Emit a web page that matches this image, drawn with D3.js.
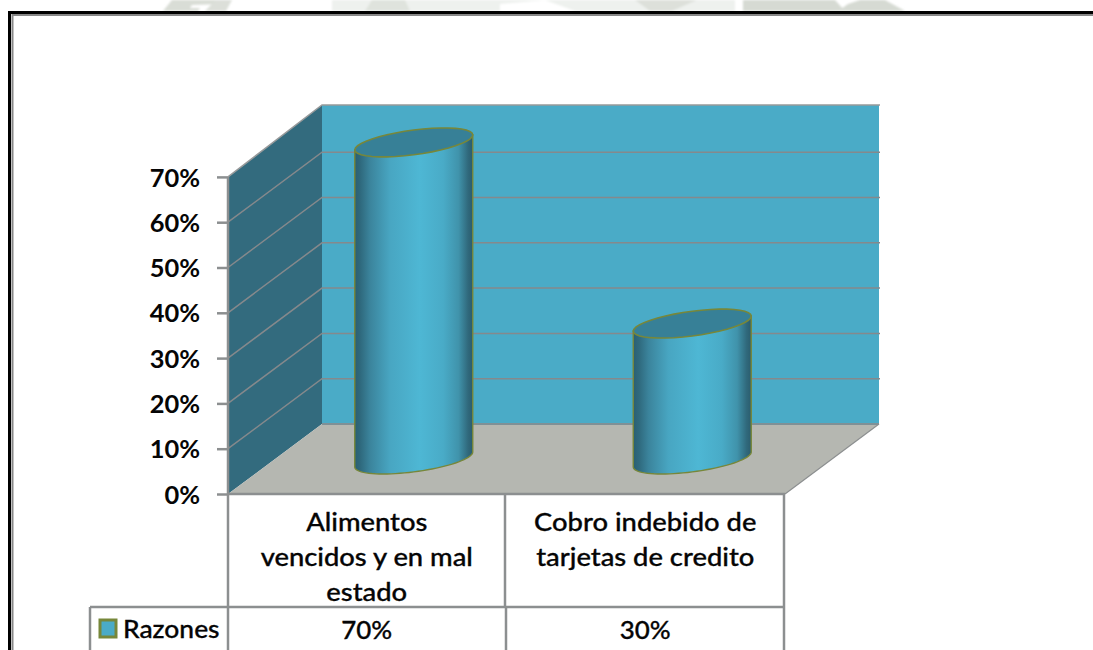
<!DOCTYPE html>
<html lang="es">
<head>
<meta charset="utf-8">
<script src="https://cdn.jsdelivr.net/npm/d3@7/dist/d3.min.js"></script>
<style>
  html, body { margin: 0; padding: 0; background: #fff; overflow: hidden; }
  svg { display: block; }
  text { font-family: Lato, "Open Sans", sans-serif; fill: #050505; }
</style>
</head>
<body>
<svg id="chart" width="1093" height="650"></svg>
<script>
// Chart content
const categories = [["Alimentos", "vencidos y en mal", "estado"], ["Cobro indebido de", "tarjetas de credito"]];
const values = [70, 30];
const seriesName = "Razones";
const yTicks = [0, 10, 20, 30, 40, 50, 60, 70];

// Faint letterhead print along the upper edge of the page
const letterhead = [
  { fill: "#eef1ee", pts: [[332,0],[735,0],[735,11],[332,11]] },
  { fill: "#d9ddd6", pts: [[163,11],[172,0],[232,0],[226,4],[192,5],[190,8],[200,8],[198,11]] },
  { fill: "#dcdfd9", pts: [[205,11],[216,0],[232,0],[226,11]] },
  { fill: "#dfe3dd", pts: [[365,11],[372,0],[405,0],[410,11]] },
  { fill: "#ffffff", pts: [[500,11],[500,4],[545,0],[575,11]] },
  { fill: "#dde0da", pts: [[635,0],[650,11],[672,11],[697,0]] },
  { fill: "#d6dad3", pts: [[743,0],[835,0],[845,11],[743,11]] },
  { fill: "#d6dad3", pts: [[838,11],[848,4],[860,0],[885,0],[905,11]] }
];

const svg = d3.select("#chart");
const defs = svg.append("defs");

// Plot geometry: front plane of the 3-D box plus its receding depth
const front = { left: 228, right: 785, bottom: 494 };
const depth = { dx: 94, dy: -70 };
const unit = 4.53;             // pixels per percentage point on the front plane
const yScale = d3.scaleLinear().domain([0, 70]).range([front.bottom, front.bottom - 70 * unit]);
const xBand = d3.scaleBand().domain(d3.range(values.length)).range([front.left, front.right]);
const backShift = v => yScale(v) + depth.dy;
const backTop = backShift(70) - 2;

const cW = "#336b7e", cBack = "#4aabc7", cFloor = "#b5b7b1", cEdge = "#8c8f90", cGrid = "#85898c", cOlive = "#77873a";

defs.append("filter").attr("id", "soft").append("feGaussianBlur").attr("stdDeviation", 1.2);

// Page frame, open towards the right and bottom edges
svg.append("g").attr("filter", "url(#soft)").selectAll("path").data(letterhead).join("path")
  .attr("fill", d => d.fill)
  .attr("d", d => d3.line()(d.pts) + "Z");
svg.append("rect").attr("x", 0).attr("y", 11).attr("width", 1093).attr("height", 639).attr("fill", "#fff");
svg.append("path").attr("d", "M9.5,650V12.5H1093").attr("fill", "none").attr("stroke", "#000").attr("stroke-width", 3);
svg.append("path").attr("d", "M12.5,650V15H1093").attr("fill", "none").attr("stroke", "#888").attr("stroke-width", 2);

const poly = pts => d3.line()(pts) + "Z";
const L = front.left, R = front.right, B = yScale(0), T = yScale(70);
const BL = L + depth.dx, BR = R + depth.dx, BB = B + depth.dy;

// Back wall, side wall and floor
svg.append("path").attr("d", poly([[BL, backTop], [BR, backTop], [BR, BB], [BL, BB]])).attr("fill", cBack);
svg.append("path").attr("d", poly([[L, T], [BL, backTop], [BL, BB], [L, B]])).attr("fill", cW);
svg.append("path").attr("d", poly([[L, B], [BL, BB], [BR, BB], [R, B]])).attr("fill", cFloor);

// Gridlines run across the back wall and down the side wall
const gridVals = yTicks.filter(v => v > 0 && v < 70);
svg.append("g").selectAll("path").data(gridVals).join("path")
  .attr("fill", "none").attr("stroke", cGrid).attr("stroke-width", 1.5)
  .attr("d", v => d3.line()([[L, yScale(v)], [BL, backShift(v)], [BR + 1, backShift(v)]]));

// Box edges
svg.append("path").attr("d", d3.line()([[L, T], [BL, backTop], [BR + 1, backTop]]))
  .attr("fill", "none").attr("stroke", "#979a9b").attr("stroke-width", 1.5);
svg.append("path").attr("d", d3.line()([[BL, BB], [BR, BB]])).attr("stroke", "#7f9096").attr("stroke-width", 2).attr("fill", "none");
svg.append("path").attr("d", d3.line()([[R, B], [BR, BB]])).attr("stroke", cEdge).attr("stroke-width", 1.2).attr("fill", "none");

// Cylinder shading, dark at both flanks and brightest just past the middle
const grad = defs.append("linearGradient").attr("id", "cyl");
[[0, "#2a5f72"], [0.05, "#2f6a7e"], [0.13, "#3b849c"], [0.3, "#48a6c2"], [0.55, "#4eb7d4"], [0.75, "#49abc7"], [0.88, "#4093ab"], [0.96, "#30697c"], [1, "#2a5c6e"]]
  .forEach(([o, c]) => grad.append("stop").attr("offset", o).attr("stop-color", c));

// Columns: sheared ellipses give the tilted caps of the 3-D projection
const capA = 59, capB = 12.4, capShear = 7.5 / 59, seat = 0.5;
const capPoint = (cx, cy, t) => [cx + capA * Math.cos(t), cy + capB * Math.sin(t) - capShear * capA * Math.cos(t)];
const capArc = (cx, cy, from, to) => d3.range(0, 41).map(i => capPoint(cx, cy, from + (to - from) * i / 40));

const cols = svg.append("g").selectAll("g").data(values).join("g");
cols.each(function (v, i) {
  const g = d3.select(this);
  const cx = xBand(i) + xBand.bandwidth() / 2 + depth.dx * seat - 0.5;
  const base = yScale(0) + depth.dy * seat + 0.5;
  const top = base - (yScale(0) - yScale(v));
  const line = d3.line();
  const lower = capArc(cx, base, Math.PI, 0);
  const body = line([capPoint(cx, top, Math.PI), ...lower, capPoint(cx, top, 0)]) + "Z";
  g.append("path").attr("d", body).attr("fill", "url(#cyl)").attr("stroke", cOlive).attr("stroke-width", 1.4);
  g.append("path").attr("d", line(capArc(cx, top, 0, 2 * Math.PI)) + "Z")
    .attr("fill", "#378097").attr("stroke", cOlive).attr("stroke-width", 1.6);
});

// Value axis
const axis = svg.append("g").attr("transform", `translate(${L},0)`)
  .call(d3.axisLeft(yScale).tickValues(yTicks).tickSize(11).tickFormat(d => d + "%"));
axis.select(".domain").attr("d", `M0,${T}V${B}`).attr("stroke", cEdge).attr("stroke-width", 2.5);
axis.selectAll(".tick line").attr("stroke", cEdge).attr("stroke-width", 2.5);
axis.selectAll(".tick text").attr("font-size", 24).attr("font-weight", 700)
  .attr("font-family", "Lato, sans-serif").attr("fill", "#000").attr("x", 0)
  .attr("transform", "translate(-28,1.5) scale(1.06,1)");

// Data table under the plot
const rowY = 607;
const tableLines = [
  [[L, B], [R, B]],
  [[L, B], [L, 650]],
  [[505, B], [505, rowY]],
  [[506, rowY], [506, 650]],
  [[R - 1, B], [R - 1, 650]],
  [[90, rowY], [R, rowY]],
  [[90, rowY], [90, 650]]
];
svg.append("g").selectAll("path").data(tableLines).join("path")
  .attr("d", d => d3.line()(d)).attr("stroke", cEdge).attr("stroke-width", 2.5).attr("fill", "none");

// Table text is set wide on a 24px body, medium weight
const wideText = (x, y, anchor, str, sx) => svg.append("text")
  .attr("transform", `translate(${x},${y}) scale(${sx},1)`)
  .attr("text-anchor", anchor).attr("font-size", 24).attr("font-weight", 500)
  .attr("stroke", "#050505").attr("stroke-width", 0.3)
  .text(str);

categories.forEach((lines, i) => {
  const x = xBand(i) + xBand.bandwidth() / 2 - 0.5;
  lines.forEach((s, k) => wideText(x, 531 + k * 35, "middle", s, 1.14));
  wideText(x, 639, "middle", values[i] + "%", 1.08);
});

// Legend key in the table's first column
svg.append("rect").attr("x", 100).attr("y", 620).attr("width", 16).attr("height", 17)
  .attr("fill", cBack).attr("stroke", cOlive).attr("stroke-width", 3);
wideText(123, 638, "start", seriesName, 1.1);
</script>
</body>
</html>
